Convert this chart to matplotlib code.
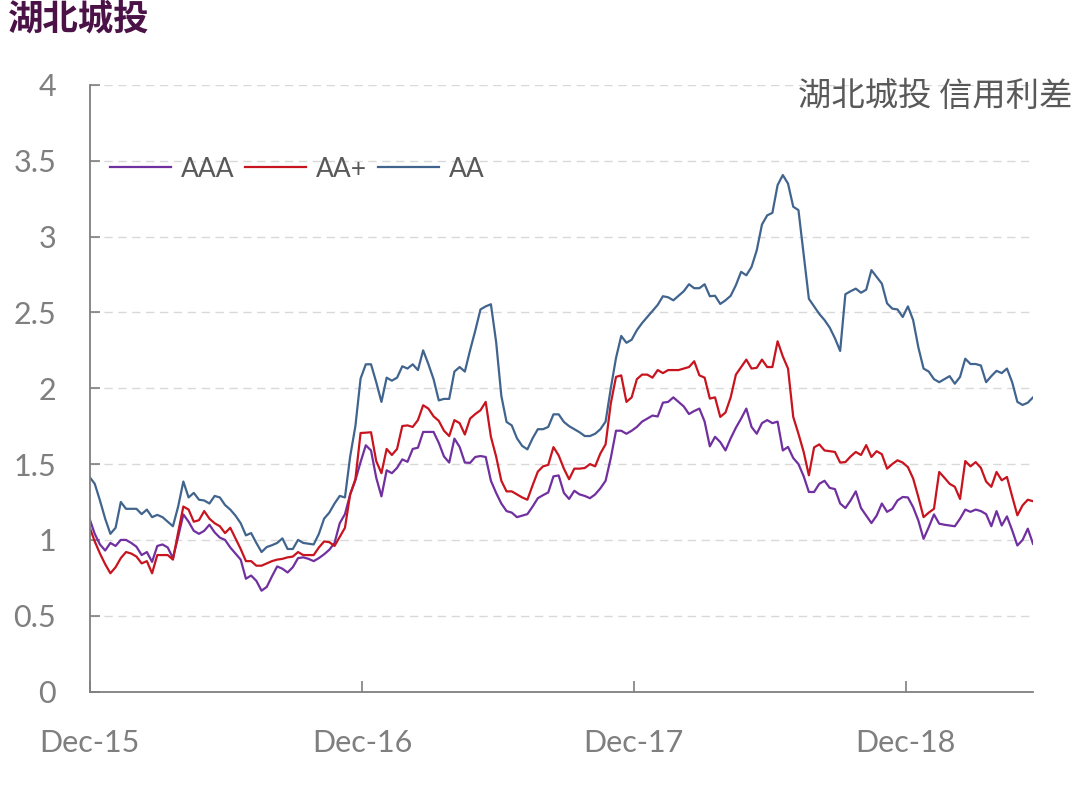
import pandas as pd
import matplotlib
matplotlib.use("Agg")
import matplotlib.pyplot as plt
import matplotlib.dates as mdates

plt.rcParams['font.family'] = ['Lato', 'Noto Sans CJK SC', 'DejaVu Sans']

# weekly data, Dec-2015 .. May-2019
dates = pd.date_range('2015-12-04', periods=182, freq='7D')

aa = [1.415, 1.37, 1.26, 1.14, 1.04, 1.08, 1.25, 1.205, 1.205, 1.205,
      1.17, 1.20, 1.15, 1.165, 1.15, 1.12, 1.09, 1.22, 1.385, 1.28,
      1.31, 1.265, 1.26, 1.24, 1.29, 1.28, 1.23, 1.20, 1.16, 1.11,
      1.03, 1.045, 0.98, 0.92, 0.953, 0.965, 0.98, 1.01, 0.94, 0.94,
      1.00, 0.98, 0.975, 0.97, 1.04, 1.14, 1.18, 1.24, 1.29, 1.28,
      1.55, 1.75, 2.064, 2.158, 2.158, 2.04, 1.91, 2.07, 2.05, 2.07,
      2.145, 2.13, 2.158, 2.12, 2.25, 2.16, 2.06, 1.92, 1.93, 1.93,
      2.11, 2.14, 2.11, 2.25, 2.38, 2.52, 2.54, 2.554, 2.306, 1.95,
      1.778, 1.755, 1.67, 1.62, 1.597, 1.67, 1.73, 1.73, 1.745, 1.828,
      1.828, 1.778, 1.75, 1.73, 1.71, 1.685, 1.685, 1.70, 1.73, 1.78,
      2.00, 2.20, 2.345, 2.30, 2.32, 2.383, 2.43, 2.47, 2.51, 2.55,
      2.607, 2.60, 2.58, 2.61, 2.64, 2.686, 2.66, 2.66, 2.686, 2.607,
      2.61, 2.556, 2.58, 2.61, 2.68, 2.768, 2.745, 2.80, 2.91, 3.08,
      3.14, 3.157, 3.34, 3.406, 3.35, 3.197, 3.175, 2.88, 2.59, 2.54,
      2.49, 2.45, 2.40, 2.33, 2.246, 2.62, 2.64, 2.657, 2.63, 2.65,
      2.779, 2.735, 2.69, 2.56, 2.525, 2.52, 2.47, 2.54, 2.45, 2.27,
      2.13, 2.11, 2.06, 2.04, 2.06, 2.08, 2.03, 2.075, 2.195, 2.16,
      2.16, 2.15, 2.04, 2.08, 2.115, 2.10, 2.13, 2.04, 1.91, 1.89,
      1.905, 1.94]

aa_plus = [1.085, 0.99, 0.91, 0.84, 0.78, 0.82, 0.88, 0.92, 0.91, 0.89,
           0.845, 0.86, 0.78, 0.90, 0.90, 0.90, 0.87, 1.05, 1.22, 1.20,
           1.12, 1.13, 1.19, 1.14, 1.11, 1.09, 1.045, 1.08, 1.01, 0.94,
           0.86, 0.86, 0.83, 0.83, 0.845, 0.86, 0.87, 0.875, 0.885, 0.89,
           0.92, 0.90, 0.90, 0.90, 0.95, 0.99, 0.985, 0.96, 1.02, 1.08,
           1.30, 1.40, 1.705, 1.707, 1.71, 1.52, 1.44, 1.60, 1.56, 1.60,
           1.751, 1.755, 1.745, 1.79, 1.888, 1.866, 1.815, 1.785, 1.72, 1.685,
           1.79, 1.77, 1.695, 1.80, 1.83, 1.855, 1.91, 1.68, 1.55, 1.39,
           1.32, 1.32, 1.30, 1.28, 1.265, 1.36, 1.45, 1.485, 1.495, 1.612,
           1.557, 1.47, 1.40, 1.47, 1.47, 1.474, 1.50, 1.485, 1.57, 1.63,
           1.90, 2.075, 2.085, 1.91, 1.94, 2.06, 2.09, 2.09, 2.07, 2.12,
           2.10, 2.12, 2.12, 2.12, 2.13, 2.14, 2.178, 2.085, 2.07, 1.932,
           1.94, 1.811, 1.84, 1.94, 2.09, 2.14, 2.189, 2.13, 2.135, 2.189,
           2.14, 2.14, 2.31, 2.21, 2.13, 1.811, 1.70, 1.58, 1.426, 1.61,
           1.63, 1.59, 1.585, 1.58, 1.51, 1.513, 1.55, 1.58, 1.56, 1.625,
           1.547, 1.585, 1.565, 1.47, 1.50, 1.525, 1.51, 1.48, 1.405, 1.283,
           1.15, 1.18, 1.205, 1.448, 1.41, 1.37, 1.35, 1.27, 1.52, 1.485,
           1.513, 1.475, 1.385, 1.35, 1.448, 1.393, 1.415, 1.287, 1.162, 1.228,
           1.265, 1.255]

aaa = [1.14, 1.04, 0.97, 0.93, 0.98, 0.96, 1.00, 1.00, 0.98, 0.955,
       0.90, 0.92, 0.855, 0.96, 0.97, 0.95, 0.88, 1.02, 1.168, 1.12,
       1.06, 1.04, 1.06, 1.10, 1.05, 1.015, 1.00, 0.95, 0.91, 0.87,
       0.744, 0.765, 0.73, 0.665, 0.69, 0.76, 0.825, 0.81, 0.785, 0.82,
       0.88, 0.885, 0.875, 0.86, 0.88, 0.905, 0.935, 0.98, 1.11, 1.17,
       1.30, 1.393, 1.514, 1.624, 1.59, 1.41, 1.287, 1.459, 1.44, 1.475,
       1.531, 1.515, 1.60, 1.608, 1.712, 1.712, 1.712, 1.64, 1.55, 1.51,
       1.668, 1.613, 1.51, 1.508, 1.547, 1.553, 1.547, 1.39, 1.31, 1.24,
       1.19, 1.18, 1.15, 1.16, 1.17, 1.22, 1.275, 1.295, 1.313, 1.419,
       1.425, 1.31, 1.27, 1.324, 1.30, 1.29, 1.275, 1.30, 1.34, 1.39,
       1.54, 1.72, 1.72, 1.70, 1.72, 1.745, 1.78, 1.80, 1.82, 1.814,
       1.905, 1.91, 1.94, 1.91, 1.88, 1.83, 1.85, 1.866, 1.78, 1.617,
       1.68, 1.645, 1.59, 1.67, 1.74, 1.80, 1.866, 1.745, 1.70, 1.77,
       1.79, 1.77, 1.78, 1.59, 1.613, 1.54, 1.50, 1.42, 1.316, 1.316,
       1.37, 1.39, 1.343, 1.335, 1.24, 1.21, 1.26, 1.32, 1.21, 1.16,
       1.111, 1.16, 1.24, 1.185, 1.205, 1.26, 1.283, 1.28, 1.216, 1.128,
       1.007, 1.084, 1.168, 1.107, 1.10, 1.095, 1.09, 1.14, 1.20, 1.185,
       1.20, 1.19, 1.17, 1.09, 1.19, 1.095, 1.155, 1.063, 0.963, 1.00,
       1.074, 0.974]

tick_dates = pd.to_datetime(['2015-12-04', '2016-12-04', '2017-12-04', '2018-12-04'])
y_ticks = [0, 0.5, 1, 1.5, 2, 2.5, 3, 3.5, 4]
y_labels = ['0', '0.5', '1', '1.5', '2', '2.5', '3', '3.5', '4']

grey = '#7f7f7f'
text_grey = '#595959'

fig = plt.figure(figsize=(10.8, 7.87), dpi=100)
ax = fig.add_axes([0.0829, 0.1213, 0.8736, 0.7707])

ax.plot(dates, aaa, color='#7030A0', lw=1.6, label='AAA')
ax.plot(dates, aa_plus, color='#C8141E', lw=1.6, label='AA+')
ax.plot(dates, aa, color='#41648E', lw=1.6, label='AA')

ax.set_xlim(dates[0], dates[-1])
ax.set_ylim(0, 4)
ax.set_yticks(y_ticks)
ax.set_yticklabels(y_labels)
ax.set_xticks(tick_dates)
ax.xaxis.set_major_formatter(mdates.DateFormatter('%b-%y'))

ax.grid(axis='y', color='#d9d9d9', lw=1, linestyle=(0, (6, 4)))
ax.set_axisbelow(True)
for s in ['top', 'right']:
    ax.spines[s].set_visible(False)
for s in ['left', 'bottom']:
    ax.spines[s].set_color(grey)
    ax.spines[s].set_linewidth(1.3)

ax.tick_params(axis='y', direction='in', length=7.5, width=1.2, color=grey,
               labelsize=22, labelcolor=grey, pad=24)
ax.tick_params(axis='x', direction='in', length=8, width=1.2, color=grey,
               labelsize=22, labelcolor=grey, pad=27)

ax.legend(loc='center left', bbox_to_anchor=(0.0217, 0.8615), ncol=3,
          frameon=False, fontsize=19, labelcolor=text_grey,
          handlelength=2.3, handletextpad=0.38, columnspacing=0.42,
          borderpad=0, borderaxespad=0)

fig.text(8 / 1080, 1 - 19 / 787, '湖北城投', fontsize=25.5, fontweight='bold',
         color='#4B1248', ha='left', va='center', family=['Noto Sans CJK SC'])
fig.text(1072 / 1080, 1 - 96 / 787, '湖北城投 信用利差', fontsize=24,
         color=text_grey, ha='right', va='center', family=['Noto Sans CJK SC'])

fig.savefig('out.png', dpi=100)
